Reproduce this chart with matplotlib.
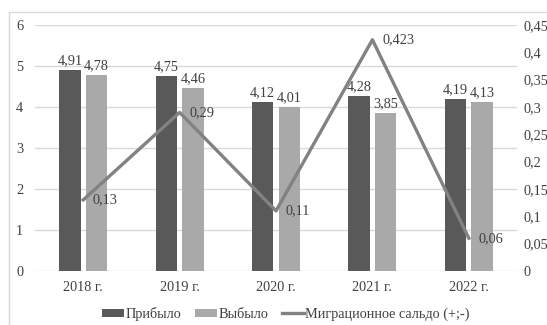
import matplotlib
matplotlib.use("Agg")
import matplotlib.pyplot as plt
from matplotlib.patches import Rectangle, Patch
from matplotlib.lines import Line2D
import numpy as np

categories = ["2018 г.", "2019 г.", "2020 г.", "2021 г.", "2022 г."]
arrived = [4.91, 4.75, 4.12, 4.28, 4.19]
departed = [4.78, 4.46, 4.01, 3.85, 4.13]
migration = [0.13, 0.29, 0.11, 0.423, 0.06]
arrived_labels = ["4,91", "4,75", "4,12", "4,28", "4,19"]
departed_labels = ["4,78", "4,46", "4,01", "3,85", "4,13"]
migration_labels = ["0,13", "0,29", "0,11", "0,423", "0,06"]
left_ticks = [0, 1, 2, 3, 4, 5, 6]
right_ticks = [0, 0.05, 0.1, 0.15, 0.2, 0.25, 0.3, 0.35, 0.4, 0.45]
right_tick_labels = ["0", "0,05", "0,1", "0,15", "0,2", "0,25", "0,3", "0,35", "0,4", "0,45"]

plt.rcParams['font.family'] = ['Liberation Serif', 'DejaVu Serif']
FS = 10.3
W, H = 547, 325
fig = plt.figure(figsize=(W / 100, H / 100), dpi=100)
fig.patch.set_facecolor('white')

ax = fig.add_axes([35 / W, (H - 271) / H, (517 - 35) / W, (271 - 25) / H])
ax2 = ax.twinx()

dark = '#595959'
light = '#a9a9a9'
linec = '#828282'
tc = '#404040'

x = np.arange(len(categories))
bw = 0.223
off = 0.1375
b1 = ax.bar(x - off, arrived, bw, color=dark, zorder=3)
b2 = ax.bar(x + off, departed, bw, color=light, zorder=3)
for rect, lab in zip(b1, arrived_labels):
    ax.annotate(lab, (rect.get_x() + rect.get_width() / 2, rect.get_height()),
                xytext=(0, 2), textcoords='offset points', ha='center', va='bottom',
                fontsize=FS, color=tc)
for rect, lab in zip(b2, departed_labels):
    ax.annotate(lab, (rect.get_x() + rect.get_width() / 2, rect.get_height()),
                xytext=(0, 2), textcoords='offset points', ha='center', va='bottom',
                fontsize=FS, color=tc)

ax.set_xlim(-0.5, len(categories) - 0.5)
ax.set_ylim(0, 6)
ax.set_yticks(left_ticks)
ax.set_yticklabels([str(t) for t in left_ticks])
ax.set_xticks(x)
ax.set_xticklabels(categories)
ax.grid(axis='y', color='#d9d9d9', linewidth=1.0, zorder=0)
ax.set_axisbelow(True)
for s in ax.spines.values():
    s.set_visible(False)
for s in ax2.spines.values():
    s.set_visible(False)
ax.tick_params(axis='both', length=0, labelsize=FS, colors=tc, pad=7)
ax.tick_params(axis='y', pad=8.5)

ax2.plot(x, migration, color=linec, linewidth=2.4, zorder=4)
for xi, v, lab in zip(x, migration, migration_labels):
    ax2.annotate(lab, (xi, v), xytext=(7, 0), textcoords='offset points',
                 ha='left', va='center', fontsize=FS, color=tc)
ax2.set_ylim(0, 0.45)
ax2.set_yticks(right_ticks)
ax2.set_yticklabels(right_tick_labels)
ax2.tick_params(axis='y', length=0, labelsize=FS, colors=tc, pad=5)

handles = [Patch(facecolor=dark), Patch(facecolor=light),
           Line2D([0], [0], color=linec, linewidth=2.4)]
fig.legend(handles, ["Прибыло", "Выбыло", "Миграционное сальдо (+;-)"],
           loc='center', bbox_to_anchor=(286 / W, 1 - 314 / H), ncol=3,
           frameon=False, fontsize=FS, handlelength=1.55, handleheight=0.55,
           handletextpad=0.05, columnspacing=1.0, labelcolor=tc,
           borderpad=0, borderaxespad=0)

fig.add_artist(Rectangle((9 / W, -0.1), 1.2, 1 - 12 / H + 0.1, transform=fig.transFigure,
                         fill=False, edgecolor='#d9d9d9', linewidth=1.0))

fig.savefig('out.png', dpi=100, facecolor='white')
